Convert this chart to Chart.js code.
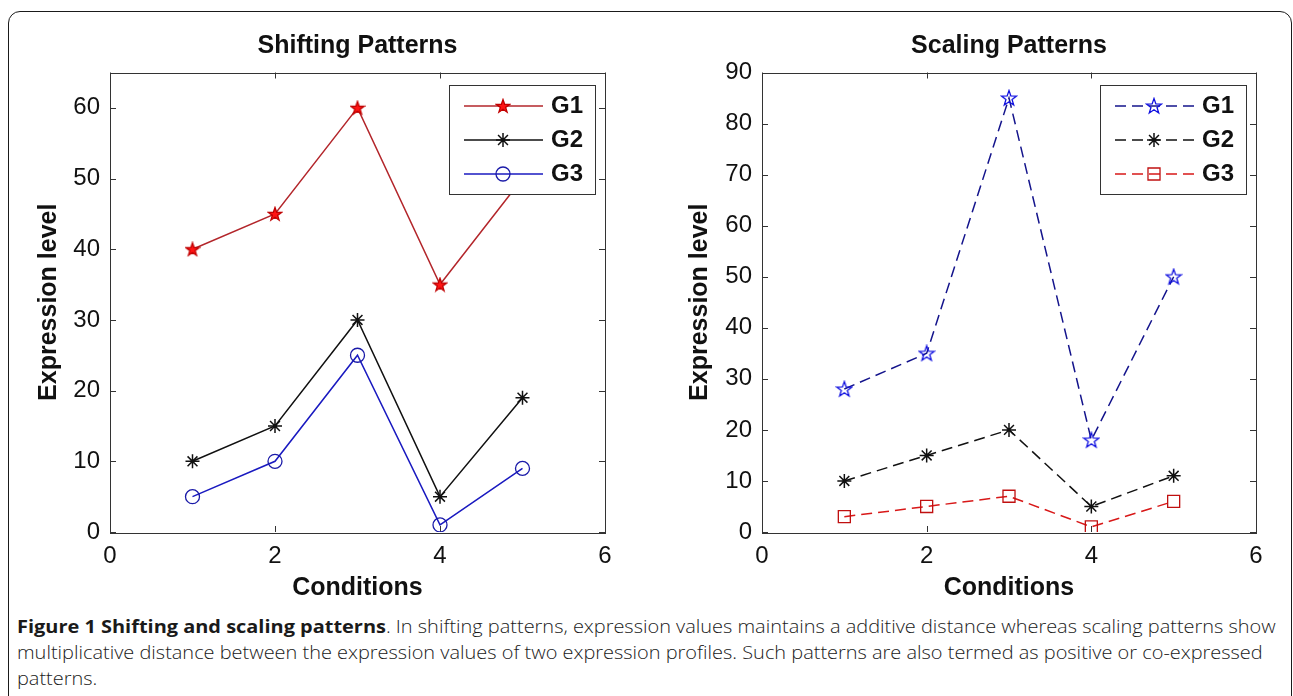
<!DOCTYPE html>
<html>
<head>
<meta charset="utf-8">
<script src="https://cdn.jsdelivr.net/npm/chart.js@4.4.1/dist/chart.umd.min.js"></script>
<style>
html, body { margin: 0; padding: 0; background: #fff; width: 1293px; height: 696px; overflow: hidden; }
#frame { position: absolute; left: 8px; top: 11px; width: 1282px; height: 720px; border: 1.5px solid #1a1a1a; border-radius: 12px; }
canvas { position: absolute; top: 0; }
#shiftChart { left: 0; }
#scaleChart { left: 640px; }
#caption { position: absolute; left: 17px; top: 613px; font-family: "Open Sans", sans-serif; font-weight: 300; font-size: 18.5px; line-height: 26px; color: #1a1a1a; white-space: nowrap; transform-origin: 0 0; }
#caption b { font-weight: 700; }
</style>
</head>
<body>
<div id="frame"></div>
<canvas id="shiftChart" width="640" height="603"></canvas>
<canvas id="scaleChart" width="653" height="603"></canvas>
<div id="caption">
  <div id="capLine1"><b>Figure 1 Shifting and scaling patterns</b>. In shifting patterns, expression values maintains a additive distance whereas scaling patterns show</div>
  <div>multiplicative distance between the expression values of two expression profiles. Such patterns are also termed as positive or co-expressed</div>
  <div>patterns.</div>
</div>
<script>
// values
const conditions = [1, 2, 3, 4, 5];
const seriesLabels = ["G1", "G2", "G3"];

const shiftG1 = [40, 45, 60, 35, 50];
const shiftG2 = [10, 15, 30, 5, 19];
const shiftG3 = [5, 10, 25, 1, 9];

const scaleG1 = [28, 35, 85, 18, 50];
const scaleG2 = [10, 15, 20, 5, 11];
const scaleG3 = [3, 5, 7, 1, 6];

const xTicks = [0, 2, 4, 6];
const shiftYTicks = [0, 10, 20, 30, 40, 50, 60];
const scaleYTicks = [0, 10, 20, 30, 40, 50, 60, 70, 80, 90];

Chart.defaults.font.family = '"Liberation Sans", Arial, sans-serif';
Chart.defaults.color = "#111";

// pentagram marker (matlab 'p')
function makePentagram(size, fill, stroke) {
    const c = document.createElement("canvas");
    c.width = c.height = size;
    const g = c.getContext("2d");
    const cx = size / 2, cy = size / 2 + 0.5, R = size / 2 - 1, r = R * 0.4;
    g.beginPath();
    for (let i = 0; i < 10; i++) {
        const ang = -Math.PI / 2 + i * Math.PI / 5;
        const rr = i % 2 ? r : R;
        g.lineTo(cx + rr * Math.cos(ang), cy + rr * Math.sin(ang));
    }
    g.closePath();
    if (fill) { g.fillStyle = fill; g.fill(); }
    g.strokeStyle = stroke;
    g.lineWidth = 1.3;
    g.stroke();
    return c;
}

const toPoints = vals => conditions.map((c, i) => ({ x: c, y: vals[i] }));

// box around the axes with inward ticks on all sides
const frameTicks = {
    id: "frameTicks",
    beforeDatasetsDraw(chart) {
        const { ctx, chartArea: a, scales: { x, y } } = chart;
        ctx.save();
        ctx.strokeStyle = "#333";
        ctx.lineWidth = 1;
        ctx.strokeRect(Math.round(a.left) + 0.5, Math.round(a.top) + 0.5, Math.round(a.right - a.left), Math.round(a.bottom - a.top));
        ctx.beginPath();
        x.ticks.forEach(t => {
            const px = Math.round(x.getPixelForValue(t.value)) + 0.5;
            ctx.moveTo(px, a.bottom); ctx.lineTo(px, a.bottom - 6);
            ctx.moveTo(px, a.top); ctx.lineTo(px, a.top + 6);
        });
        y.ticks.forEach(t => {
            const py = Math.round(y.getPixelForValue(t.value)) + 0.5;
            ctx.moveTo(a.left, py); ctx.lineTo(a.left + 6, py);
            ctx.moveTo(a.right, py); ctx.lineTo(a.right - 6, py);
        });
        ctx.stroke();
        ctx.restore();
    }
};

// legend box inside the axes, top right
const boxLegend = {
    id: "boxLegend",
    afterDraw(chart) {
        const { ctx, chartArea: a } = chart;
        const w = 146, h = 109;
        const left = Math.round(a.right - 10 - w), top = Math.round(a.top + 12.5);
        ctx.save();
        ctx.fillStyle = "#fff";
        ctx.fillRect(left, top, w, h);
        ctx.strokeStyle = "#333";
        ctx.lineWidth = 1;
        ctx.strokeRect(left + 0.5, top + 0.5, w, h);
        chart.data.datasets.forEach((ds, i) => {
            const yy = top + 21 + i * 34;
            ctx.strokeStyle = ds.borderColor;
            ctx.lineWidth = ds.borderWidth;
            ctx.setLineDash(ds.borderDash || []);
            ctx.beginPath();
            ctx.moveTo(left + 15, yy);
            ctx.lineTo(left + 94, yy);
            ctx.stroke();
            ctx.setLineDash([]);
            ctx.fillStyle = ds.pointBackgroundColor;
            ctx.strokeStyle = ds.pointBorderColor;
            ctx.lineWidth = ds.pointBorderWidth;
            Chart.helpers.drawPoint(ctx, { pointStyle: ds.pointStyle, radius: ds.pointRadius, borderWidth: ds.pointBorderWidth, rotation: 0 }, left + 54, yy);
            ctx.fillStyle = "#111";
            ctx.font = 'bold 24px "Liberation Sans", Arial, sans-serif';
            ctx.textBaseline = "middle";
            ctx.textAlign = "left";
            ctx.fillText(ds.label, left + 102, yy);
        });
        ctx.restore();
    }
};

function buildOptions(title, yMax, yTicks, yWidth, yTitlePad, rightPad) {
    return {
        responsive: false,
        animation: false,
        layout: { padding: { left: 0, right: rightPad, top: 0, bottom: 0 } },
        plugins: {
            legend: { display: false },
            tooltip: { enabled: false },
            title: {
                display: true, text: title, fullSize: false,
                font: { size: 25, weight: "bold" }, color: "#111",
                padding: { top: 31, bottom: 11.5 }
            }
        },
        scales: {
            x: {
                type: "linear", min: 0, max: 6,
                afterBuildTicks: s => { s.ticks = xTicks.map(v => ({ value: v })); },
                grid: { display: false, drawTicks: false },
                border: { display: false },
                ticks: { padding: 10, font: { size: 24 }, color: "#111" },
                title: { display: true, text: "Conditions", font: { size: 25, weight: "bold" }, color: "#111", padding: { top: 0, bottom: 0 } },
                afterFit: s => { s.height = 71; }
            },
            y: {
                type: "linear", min: 0, max: yMax,
                afterBuildTicks: s => { s.ticks = yTicks.map(v => ({ value: v })); },
                grid: { display: false, drawTicks: false },
                border: { display: false },
                ticks: { padding: 10, font: { size: 24 }, color: "#111" },
                title: { display: true, text: "Expression level", font: { size: 25, weight: "bold" }, color: "#111", padding: { top: yTitlePad, bottom: 0 } },
                afterFit: s => { s.width = yWidth; }
            }
        }
    };
}

new Chart(document.getElementById("shiftChart"), {
    type: "line",
    data: {
        datasets: [
            { label: seriesLabels[0], data: toPoints(shiftG1), borderColor: "#b3262b", borderWidth: 1.5,
              pointStyle: makePentagram(16, "#ff1414", "#c00000"), pointRadius: 8,
              pointBackgroundColor: "#ff1414", pointBorderColor: "#c00000", pointBorderWidth: 1 },
            { label: seriesLabels[1], data: toPoints(shiftG2), borderColor: "#111", borderWidth: 1.5,
              pointStyle: "star", pointRadius: 7,
              pointBackgroundColor: "#111", pointBorderColor: "#111", pointBorderWidth: 1.5 },
            { label: seriesLabels[2], data: toPoints(shiftG3), borderColor: "#1a1ac0", borderWidth: 1.5,
              pointStyle: "circle", pointRadius: 7,
              pointBackgroundColor: "rgba(0,0,0,0)", pointBorderColor: "#1a1aa8", pointBorderWidth: 1.3 }
        ]
    },
    options: buildOptions("Shifting Patterns", 65, shiftYTicks, 110, 34, 35),
    plugins: [frameTicks, boxLegend]
});

new Chart(document.getElementById("scaleChart"), {
    type: "line",
    data: {
        datasets: [
            { label: seriesLabels[0], data: toPoints(scaleG1), borderColor: "#14148c", borderWidth: 1.5, borderDash: [11, 6],
              pointStyle: makePentagram(18, null, "#1010e0"), pointRadius: 9,
              pointBackgroundColor: "rgba(0,0,0,0)", pointBorderColor: "#1010e0", pointBorderWidth: 1.3 },
            { label: seriesLabels[1], data: toPoints(scaleG2), borderColor: "#111", borderWidth: 1.5, borderDash: [11, 6],
              pointStyle: "star", pointRadius: 7,
              pointBackgroundColor: "#111", pointBorderColor: "#111", pointBorderWidth: 1.5 },
            { label: seriesLabels[2], data: toPoints(scaleG3), borderColor: "#d81818", borderWidth: 1.5, borderDash: [11, 6],
              pointStyle: "rect", pointRadius: 8.5,
              pointBackgroundColor: "rgba(0,0,0,0)", pointBorderColor: "#c01010", pointBorderWidth: 1.3 }
        ]
    },
    options: buildOptions("Scaling Patterns", 90, scaleYTicks, 122, 45, 37),
    plugins: [frameTicks, boxLegend]
});

// squeeze the caption so the first line spans the same width as the figure
function fitCaption() {
    const line = document.getElementById("capLine1");
    const w = line.scrollWidth;
    document.getElementById("caption").style.transform = "scaleX(" + (1259 / w) + ")";
}
fitCaption();
document.fonts.ready.then(fitCaption);
</script>
</body>
</html>
